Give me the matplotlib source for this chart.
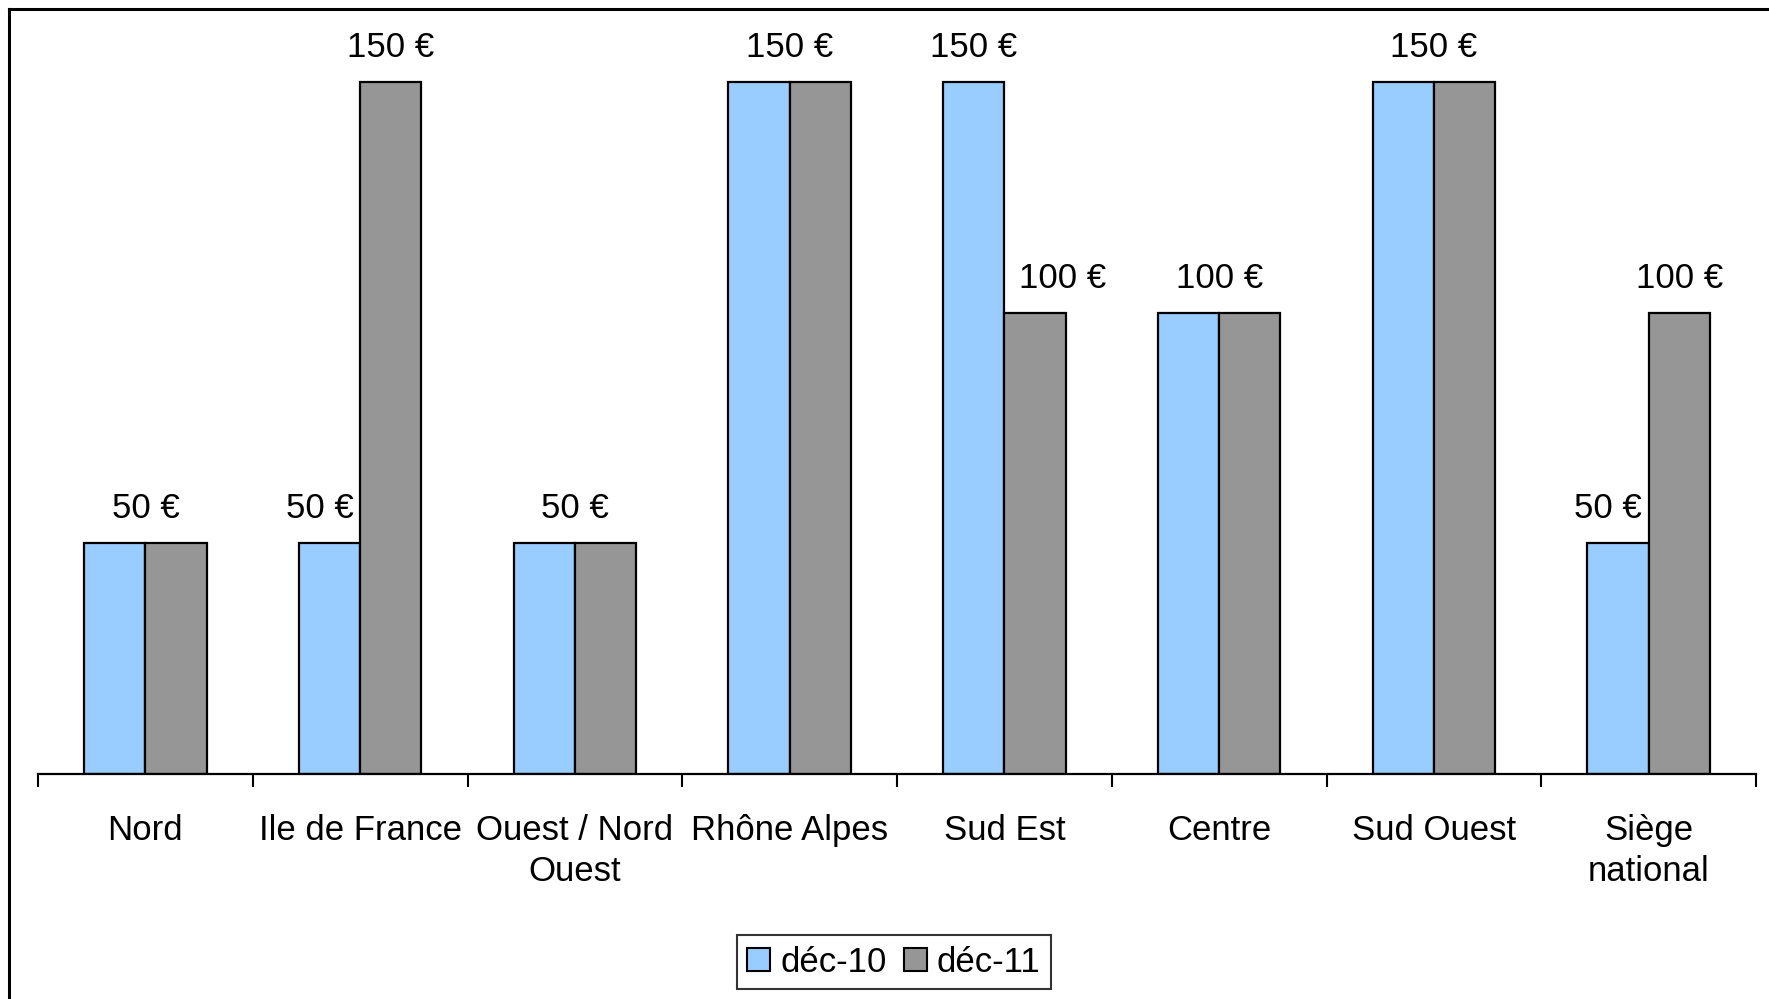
"""Regional amounts per region, déc-10 vs déc-11."""

import matplotlib.pyplot as plt
import numpy as np
from matplotlib.lines import Line2D
from matplotlib.patches import Patch

plt.rcParams["font.family"] = ["Liberation Sans", "DejaVu Sans"]

regions = ["Nord", "Ile de France", "Ouest / Nord\nOuest", "Rhône Alpes",
           "Sud Est", "Centre", "Sud Ouest", "Siège\nnational"]
dec10 = [50, 50, 50, 150, 150, 100, 150, 50]
dec11 = [50, 150, 50, 150, 100, 100, 150, 100]
series_names = ["déc-10", "déc-11"]
colors = ["#99CCFF", "#969696"]

W, H = 1769, 999
fig = plt.figure(figsize=(W / 100, H / 100), dpi=100)
ax = fig.add_axes([38 / W, (H - 774) / H, (1756 - 38) / W, (774 - 9) / H])

x = np.arange(len(regions))
bw = 0.285
ax.bar(x - bw / 2, dec10, bw, color=colors[0], edgecolor="black", linewidth=1.6, zorder=2)
ax.bar(x + bw / 2, dec11, bw, color=colors[1], edgecolor="black", linewidth=1.6, zorder=2)

# data labels: one per pair when equal, else over each bar (lower one nudged outward)
label_kw = dict(textcoords="offset points", ha="center", va="baseline", fontsize=25)
for i, (a, b) in enumerate(zip(dec10, dec11)):
    if a == b:
        ax.annotate(f"{a} €", (i, a), xytext=(0, 18), **label_kw)
    else:
        ax.annotate(f"{a} €", (i - bw / 2, a), xytext=(-7 if a < b else 0, 18), **label_kw)
        ax.annotate(f"{b} €", (i + bw / 2, b), xytext=(20 if b < a else 0, 18), **label_kw)

ax.set_xlim(-0.5, len(regions) - 0.5)
ax.set_ylim(0, 165.8)
for side in ("top", "right", "left"):
    ax.spines[side].set_visible(False)
ax.spines["bottom"].set_linewidth(1.6)
ax.set_yticks([])

ax.set_xticks(np.arange(-0.5, len(regions)), labels=[""] * (len(regions) + 1))
ax.tick_params(axis="x", which="major", length=9.5, width=1.5, direction="out")
ax.set_xticks(x, labels=regions, minor=True)
ax.tick_params(axis="x", which="minor", length=0, pad=29, labelsize=25)
for lbl in ax.get_xticklabels(minor=True):
    lbl.set_linespacing(1.3)

handles = [Patch(facecolor=c, edgecolor="black", linewidth=1.5) for c in colors]
leg = fig.legend(handles, series_names, loc="center", bbox_to_anchor=(894 / W, (H - 962) / H),
                 ncol=2, fontsize=25, frameon=True, fancybox=False, edgecolor="black",
                 handlelength=0.65, handleheight=0.65, handletextpad=0.3, columnspacing=0.5,
                 borderpad=0.3)
leg.get_frame().set_linewidth(1.5)

# outer chart frame: only left and top edges are visible
fig.add_artist(Line2D([9 / W, 9 / W], [0, (H - 9) / H], color="black", linewidth=2.2))
fig.add_artist(Line2D([9 / W, 1], [(H - 9) / H, (H - 9) / H], color="black", linewidth=2.2))

fig.savefig("out.png", dpi=100, facecolor="white")
